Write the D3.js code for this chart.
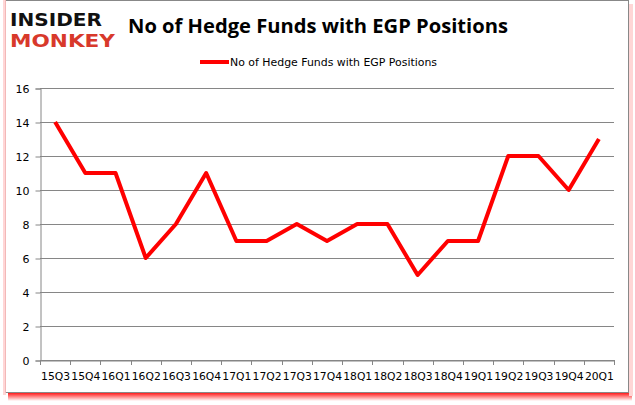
<!DOCTYPE html>
<html>
<head>
<meta charset="utf-8">
<script src="https://cdn.jsdelivr.net/npm/d3@7"></script>
<style>
body { margin: 0; background: #fff; }
svg { display: block; }
</style>
</head>
<body>
<svg width="635" height="405"></svg>
<script>
var quarters = ["15Q3","15Q4","16Q1","16Q2","16Q3","16Q4","17Q1","17Q2","17Q3","17Q4",
	"18Q1","18Q2","18Q3","18Q4","19Q1","19Q2","19Q3","19Q4","20Q1"];
var funds = [14, 11, 11, 6, 8, 11, 7, 7, 8, 7, 8, 8, 5, 7, 7, 12, 12, 10, 13];
var yTicks = [0, 2, 4, 6, 8, 10, 12, 14, 16];
var seriesName = "No of Hedge Funds with EGP Positions";

var svg = d3.select("svg");
var defs = svg.append("defs");

// red shadow under the frame
var grad = defs.append("linearGradient").attr("id", "shadow")
	.attr("x1", 0).attr("y1", 0).attr("x2", 0).attr("y2", 1);
grad.append("stop").attr("offset", "0%").attr("stop-color", "#ff0000").attr("stop-opacity", 1);
grad.append("stop").attr("offset", "100%").attr("stop-color", "#ff0000").attr("stop-opacity", 0);
svg.append("rect").attr("x", 8).attr("y", 392).attr("width", 624).attr("height", 9)
	.attr("fill", "url(#shadow)");
svg.append("rect").attr("x", 629).attr("y", 4).attr("width", 4).attr("height", 392)
	.attr("fill", "#ffd6d6");
svg.append("rect").attr("x", 3).attr("y", 0).attr("width", 3).attr("height", 395)
	.attr("fill", "#ffd6d6");

// frame
svg.append("rect").attr("x", 5.5).attr("y", 0.5).attr("width", 623).attr("height", 392)
	.attr("fill", "#fff").attr("stroke", "#888").attr("stroke-width", 1);
svg.append("line").attr("x1", 5.5).attr("x2", 5.5).attr("y1", 0).attr("y2", 393)
	.attr("stroke", "#f2b8b8");

// logo
svg.append("text").attr("x", 10).attr("y", 26)
	.style("font-family", "DejaVu Sans").style("font-weight", "bold").style("font-size", "17px")
	.attr("textLength", 92).attr("lengthAdjust", "spacingAndGlyphs")
	.attr("fill", "#111").text("INSIDER");
svg.append("text").attr("x", 10).attr("y", 47)
	.style("font-family", "DejaVu Sans").style("font-weight", "bold").style("font-size", "17px")
	.attr("textLength", 105).attr("lengthAdjust", "spacingAndGlyphs")
	.attr("fill", "#d8392b").text("MONKEY");

// title
svg.append("text").attr("x", 318).attr("y", 33).attr("text-anchor", "middle")
	.style("font-family", "Open Sans").style("font-weight", "bold").style("font-size", "20px")
	.attr("textLength", 380).attr("lengthAdjust", "spacingAndGlyphs")
	.attr("fill", "#000").text("No of Hedge Funds with " + "EGP Positions");

// legend
svg.append("line").attr("x1", 200).attr("x2", 229).attr("y1", 62).attr("y2", 62)
	.attr("stroke", "#ff0000").attr("stroke-width", 4);
svg.append("text").attr("x", 230).attr("y", 66)
	.style("font-family", "DejaVu Sans").style("font-size", "11px")
	.attr("textLength", 207).attr("lengthAdjust", "spacingAndGlyphs")
	.attr("fill", "#000").text(seriesName);

var plotLeft = 40, plotRight = 614, plotTop = 88, plotBottom = 360;
var x = d3.scaleBand().domain(quarters).range([plotLeft, plotRight]);
var y = d3.scaleLinear().domain([0, 16]).range([plotBottom, plotTop]);

// gridlines
svg.append("g").selectAll("line").data(yTicks).join("line")
	.attr("x1", plotLeft).attr("x2", plotRight)
	.attr("y1", function(d) { return y(d) + 0.5; })
	.attr("y2", function(d) { return y(d) + 0.5; })
	.attr("stroke", "#868686").attr("stroke-width", 1);

// y axis
var yAxis = svg.append("g").attr("transform", "translate(" + (plotLeft + 0.5) + ",0.5)")
	.call(d3.axisLeft(y).tickValues(yTicks).tickSize(5).tickPadding(6));
yAxis.select(".domain").attr("stroke", "#868686");
yAxis.selectAll(".tick line").attr("stroke", "#868686");
yAxis.selectAll("text").style("font-family", "DejaVu Sans").style("font-size", "11px").attr("fill", "#000");

// x axis
var xAxis = svg.append("g").attr("transform", "translate(0.5," + (plotBottom + 0.5) + ")")
	.call(d3.axisBottom(x).tickSize(0).tickPadding(12));
xAxis.select(".domain").attr("stroke", "#868686");
xAxis.selectAll("text").style("font-family", "DejaVu Sans").style("font-size", "10.5px")
	.attr("fill", "#000").attr("textLength", 29).attr("lengthAdjust", "spacingAndGlyphs");
var xEdges = quarters.map(function(q) { return x(q); }).concat([plotRight]);
svg.append("g").selectAll("line").data(xEdges).join("line")
	.attr("x1", function(d) { return Math.round(d) + 0.5; })
	.attr("x2", function(d) { return Math.round(d) + 0.5; })
	.attr("y1", plotBottom).attr("y2", plotBottom + 5)
	.attr("stroke", "#868686");

// series line
var line = d3.line()
	.x(function(d, i) { return x(quarters[i]) + x.bandwidth() / 2; })
	.y(function(d) { return y(d); });
svg.append("path").datum(funds).attr("d", line)
	.attr("fill", "none").attr("stroke", "#ff0000").attr("stroke-width", 4)
	.attr("stroke-linejoin", "round");
</script>
</body>
</html>
